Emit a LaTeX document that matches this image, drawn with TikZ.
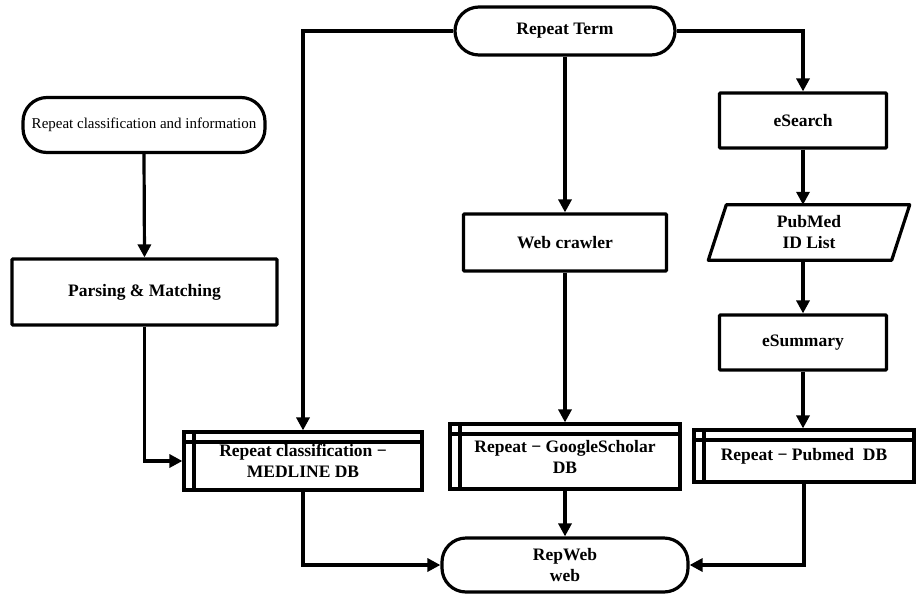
\documentclass[tikz,border=0pt]{standalone}
\usepackage{fontspec}
\setmainfont{Liberation Serif}
\usetikzlibrary{arrows.meta}
\begin{document}
\begin{tikzpicture}[x=1pt,y=-1pt,
  every node/.style={inner sep=0pt, align=center},
  bt/.style={font=\fontsize{17.5}{21}\selectfont\bfseries},
  term/.style={draw, line width=3.2pt, rounded corners=24pt, bt},
  proc/.style={draw, line width=3.2pt, rounded corners=1pt, bt},
  dbbox/.style={draw, line width=3.2pt, bt,
    path picture={
      \draw[line width=3.2pt] ([xshift=10pt]path picture bounding box.north west) -- ([xshift=10pt]path picture bounding box.south west);
      \draw[line width=3.2pt] ([yshift=-10pt]path picture bounding box.north west) -- ([yshift=-10pt]path picture bounding box.north east);
    }},
  conn/.style={line width=3.2pt},
  arr/.style={conn, -{Triangle[length=13pt,width=13pt]}}
]
\useasboundingbox (0,0) rectangle (919,595);

\node[term, minimum width=220pt, minimum height=48pt] (rt) at (565,31) {Repeat Term};
\node[term, minimum width=242pt, minimum height=55pt, font=\fontsize{15}{18}\selectfont] (rci) at (144,125) {Repeat classification and information};
\node[proc, minimum width=265pt, minimum height=66pt] (pm) at (144.5,292) {Parsing \& Matching};
\node[dbbox, minimum width=238pt, minimum height=58pt] (med) at (303,461) {Repeat classification −\\MEDLINE DB};
\node[proc, minimum width=203pt, minimum height=57pt] (wc) at (565,242.5) {Web crawler};
\node[dbbox, minimum width=230pt, minimum height=65pt] (gs) at (565,456.5) {Repeat − GoogleScholar\\DB};
\node[term, minimum width=246pt, minimum height=54pt] (rw) at (565,565) {RepWeb\\web};
\node[proc, minimum width=167pt, minimum height=55pt] (es) at (803,120.5) {eSearch};
\node[minimum width=183pt, minimum height=55pt, bt] (pub) at (809,232.5) {PubMed\\ID List};
\draw[line width=3.2pt, line join=round] ([xshift=-9pt]pub.south west) -- ([xshift=-9pt]pub.south east) -- ([xshift=9pt]pub.north east) -- ([xshift=9pt]pub.north west) -- cycle;
\node[proc, minimum width=167pt, minimum height=55pt] (esum) at (803,342.5) {eSummary};
\node[dbbox, minimum width=220pt, minimum height=52pt] (pdb) at (804,456) {\raisebox{-3pt}{Repeat − Pubmed\ \ DB}};

\draw[arr] (rt.west) -| (med.north);
\draw[arr] (rt.east) -| (es.north);
\draw[arr] (rt.south) -- (wc.north);
\draw[arr] (rci.south) -- (pm.north);
\draw[arr] (pm.south) |- (med.west);
\draw[arr] (med.south) |- (rw.west);
\draw[arr] (wc.south) -- (gs.north);
\draw[arr] (gs.south) -- (rw.north);
\draw[arr] (es.south) -- (es.south |- pub.north);
\draw[arr] (es.south |- pub.south) -- (esum.north);
\draw[arr] (esum.south) -- (esum.south |- pdb.north);
\draw[arr] (pdb.south) |- (rw.east);
\end{tikzpicture}
\end{document}
